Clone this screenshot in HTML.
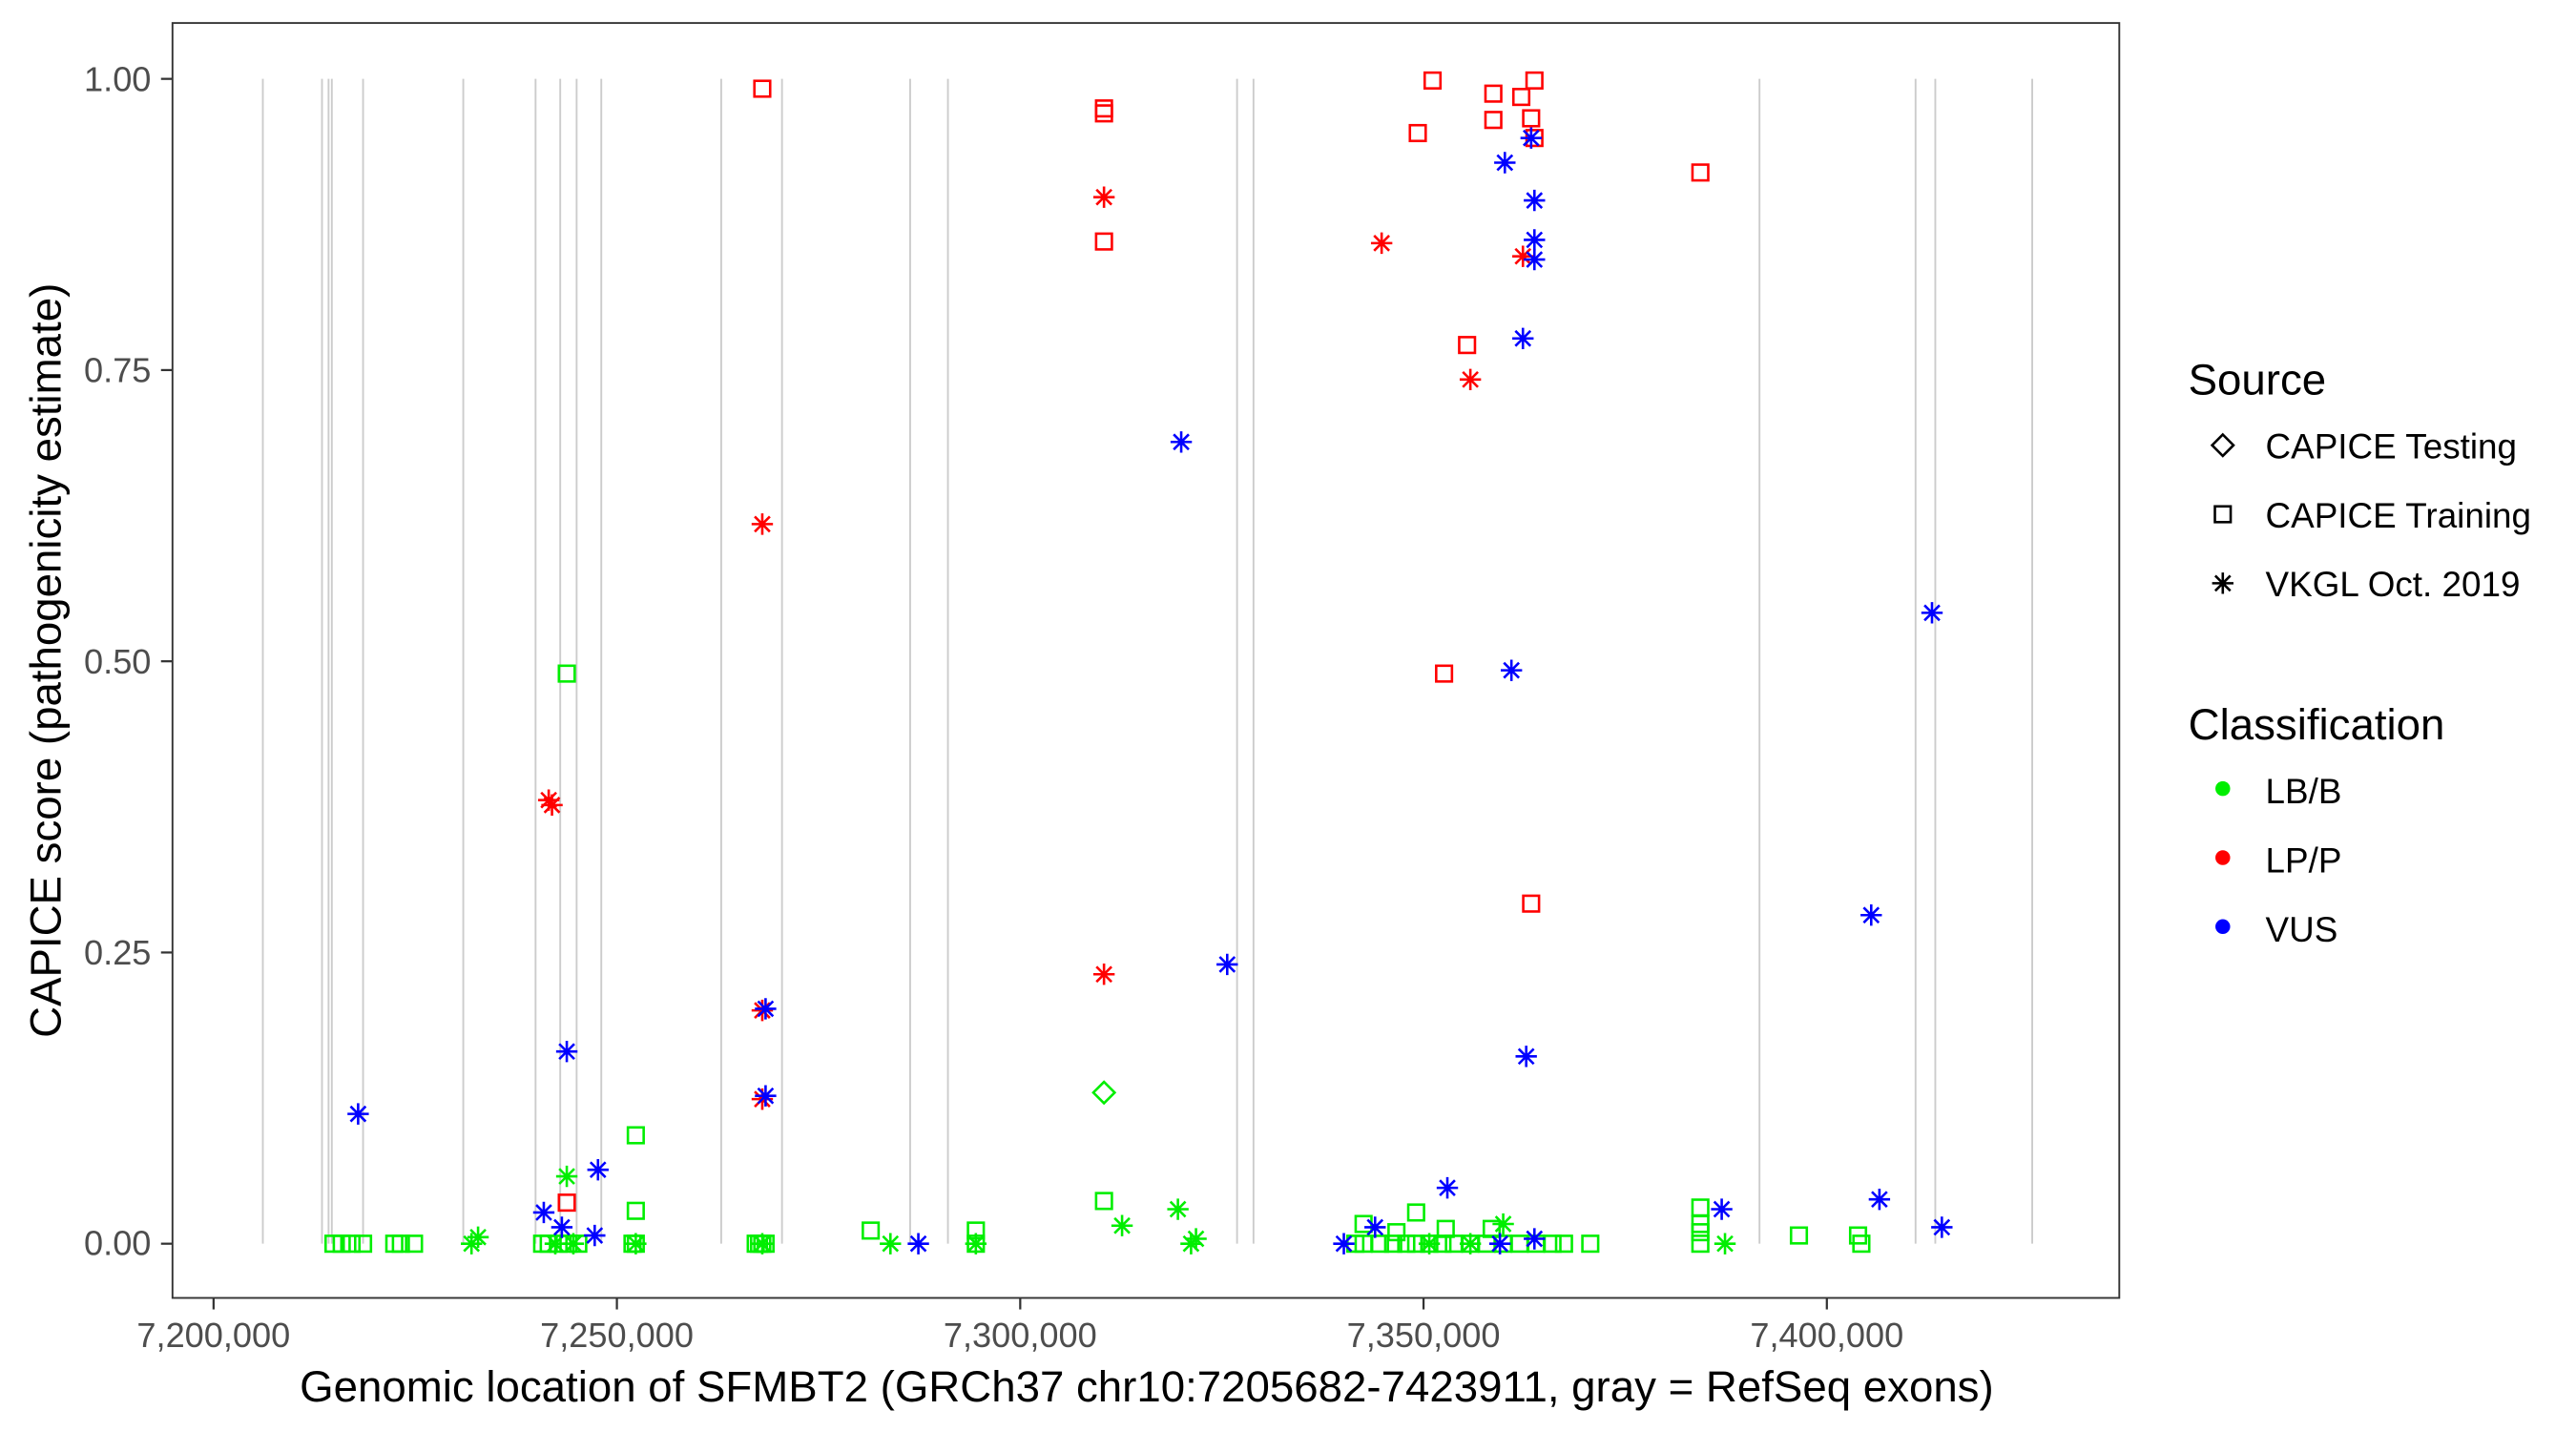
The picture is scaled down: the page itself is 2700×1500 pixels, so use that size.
<!DOCTYPE html>
<html><head><meta charset="utf-8"><style>html,body{margin:0;padding:0;background:#fff}svg{display:block}</style></head>
<body>
<svg id="s" width="2700" height="1500" viewBox="0 0 1568 871" preserveAspectRatio="none" xmlns="http://www.w3.org/2000/svg" font-family="Liberation Sans, sans-serif">
<rect x="0" y="0" width="1568" height="871" fill="#fff"/>
<g id="ex" stroke="#cccccc" stroke-width="1.1"></g>
<g id="pts" fill="none" stroke-width="1.5"></g>
<rect x="105" y="14" width="1185" height="776" fill="none" stroke="#333" stroke-width="1.1"/>
<g stroke="#333" stroke-width="1.3">
<line x1="98" y1="48" x2="105" y2="48"/><line x1="98" y1="225.25" x2="105" y2="225.25"/><line x1="98" y1="402.5" x2="105" y2="402.5"/><line x1="98" y1="579.75" x2="105" y2="579.75"/><line x1="98" y1="757" x2="105" y2="757"/>
<line x1="130" y1="790" x2="130" y2="797"/><line x1="375.5" y1="790" x2="375.5" y2="797"/><line x1="621" y1="790" x2="621" y2="797"/><line x1="866.5" y1="790" x2="866.5" y2="797"/><line x1="1112" y1="790" x2="1112" y2="797"/>
</g>
<g font-size="21" fill="#4d4d4d" text-anchor="end">
<text x="92" y="55.5">1.00</text><text x="92" y="232.5">0.75</text><text x="92" y="410">0.50</text><text x="92" y="587">0.25</text><text x="92" y="764">0.00</text>
</g>
<g font-size="21" fill="#4d4d4d" text-anchor="middle">
<text x="130" y="820">7,200,000</text><text x="375.5" y="820">7,250,000</text><text x="621" y="820">7,300,000</text><text x="866.5" y="820">7,350,000</text><text x="1112" y="820">7,400,000</text>
</g>
<text x="698" y="853" font-size="26.5" text-anchor="middle" fill="#000">Genomic location of SFMBT2 (GRCh37 chr10:7205682-7423911, gray = RefSeq exons)</text>
<text transform="translate(37,402) rotate(-90)" font-size="26.5" text-anchor="middle" fill="#000">CAPICE score (pathogenicity estimate)</text>
<text x="1332" y="240" font-size="26.5" fill="#000">Source</text>
<text x="1379" y="279" font-size="21.4" fill="#000">CAPICE Testing</text>
<text x="1379" y="321" font-size="21.4" fill="#000">CAPICE Training</text>
<text x="1379" y="363" font-size="21.4" fill="#000">VKGL Oct. 2019</text>
<text x="1332" y="450" font-size="26.5" fill="#000">Classification</text>
<text x="1379" y="489" font-size="21.4" fill="#000">LB/B</text>
<text x="1379" y="531" font-size="21.4" fill="#000">LP/P</text>
<text x="1379" y="573" font-size="21.4" fill="#000">VUS</text>
<g id="leg" fill="none" stroke="#000" stroke-width="1.5"></g>
<circle cx="1353" cy="480" r="4.5" fill="#00ee00"/>
<circle cx="1353" cy="522" r="4.5" fill="#ff0000"/>
<circle cx="1353" cy="564" r="4.5" fill="#0000ff"/>
</svg>
<script>
var NS="http://www.w3.org/2000/svg";
function el(p,t,a){var e=document.createElementNS(NS,t);for(var k in a)e.setAttribute(k,a[k]);p.appendChild(e);return e;}
var ex=document.getElementById('ex');
[160,196,200,202,221,282,326,341,351,366,439,476,554,577,753,763,1071,1166,1178,1237].forEach(function(x){el(ex,'line',{x1:x,y1:48,x2:x,y2:757});});
var P=document.getElementById('pts');
var C={g:'#00ee00',r:'#ff0000',b:'#0000ff'};
function sq(g,x,y,c){el(g,'rect',{x:x-4.8,y:y-4.8,width:9.6,height:9.6,stroke:c});}
function ast(g,x,y,c){var r=6.5,d=4.6;el(g,'path',{d:'M'+(x-r)+' '+y+'H'+(x+r)+'M'+x+' '+(y-r)+'V'+(y+r)+'M'+(x-d)+' '+(y-d)+'L'+(x+d)+' '+(y+d)+'M'+(x-d)+' '+(y+d)+'L'+(x+d)+' '+(y-d),stroke:c});}
function dia(g,x,y,c){var r=6.5;el(g,'path',{d:'M'+x+' '+(y-r)+'L'+(x+r)+' '+y+'L'+x+' '+(y+r)+'L'+(x-r)+' '+y+'Z',stroke:c});}
[203,208,214,221,240,244,252,330,334,340,346,352,385,387,460,462,464,466,594,825,830,840,848,856,862,870,878,885,895,905,915,925,935,945,952,968,1035,1133].forEach(function(x){sq(P,x,757,C.g);});
[[530,749],[594,749],[1035,735],[1035,745],[1035,750],[1095,752],[1131,752],[345,410],[387,691],[387,737],[672,731],[862,738],[830,745],[908,748],[880,748],[850,750]].forEach(function(p){sq(P,p[0],p[1],C.g);});
dia(P,672,665,C.g);
[[287,757],[291,753],[345,716],[338,757],[349,757],[387,757],[464,757],[542,757],[594,757],[683,746],[717,736],[725,757],[728,754],[870,757],[915,745],[1050,757],[895,757]].forEach(function(p){ast(P,p[0],p[1],C.g);});
[[464,54],[672,66],[672,69],[672,147],[872,49],[934,49],[909,57],[926,59],[863,81],[909,73],[932,72],[934,84],[1035,105],[893,210],[879,410],[932,550],[345,732]].forEach(function(p){sq(P,p[0],p[1],C.r);});
[[672,120],[841,148],[927,156],[895,231],[464,319],[334,487],[336,490],[464,615],[464,669],[672,593]].forEach(function(p){ast(P,p[0],p[1],C.r);});
[[218,678],[719,269],[916,99],[932,84],[934,122],[934,146],[934,158],[927,206],[920,408],[1176,373],[747,587],[1139,557],[345,640],[466,614],[466,667],[929,643],[881,723],[364,712],[331,738],[342,747],[1144,730],[1048,736],[1182,747],[362,752],[837,747],[818,757],[559,757],[913,757],[934,754]].forEach(function(p){ast(P,p[0],p[1],C.b);});
var L=document.getElementById('leg');
dia(L,1353,271,'#000');sq(L,1353,313,'#000');ast(L,1353,355,'#000');
</script>
</body></html>
